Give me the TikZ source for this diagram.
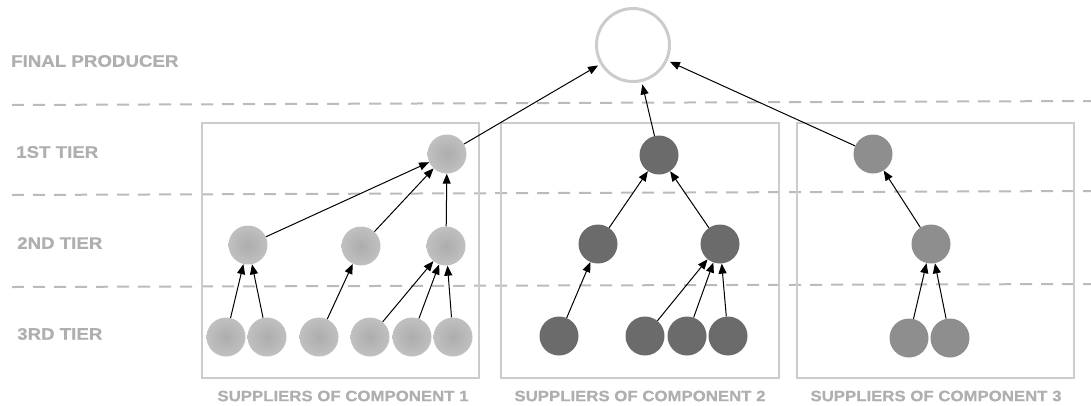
\documentclass[tikz,border=0pt]{standalone}
\usepackage{fontspec}
\usetikzlibrary{arrows.meta}
\newfontfamily\lblfont[FakeStretch=1.12, BoldFeatures={FakeBold=0.8}]{Liberation Sans}
\definecolor{tiergray}{HTML}{AFAFAF}
\definecolor{boxgray}{HTML}{CCCCCC}
\definecolor{dashgray}{HTML}{BBBBBB}
\definecolor{cAin}{HTML}{ADADAD}
\definecolor{cAout}{HTML}{C0C0C0}
\definecolor{cB}{HTML}{6B6B6B}
\definecolor{cC}{HTML}{8E8E8E}
\tikzset{
  tier/.style={font=\lblfont\bfseries\fontsize{16.7}{20}\selectfont, text=tiergray, anchor=west, inner sep=0pt},
  boxlbl/.style={font=\lblfont\bfseries\fontsize{15}{18}\selectfont, text=tiergray, inner sep=0pt},
  grp/.style={draw=boxgray, line width=2pt, minimum height=255pt, inner sep=0pt},
  dot/.style={circle, minimum size=39pt, inner sep=0pt},
  dA/.style={dot, shade, inner color=cAin, outer color=cAout},
  dB/.style={dot, fill=cB},
  dC/.style={dot, fill=cC},
  final/.style={circle, draw=boxgray, line width=3pt, minimum size=73pt, inner sep=0pt},
  tierline/.style={dashgray, line width=2pt, dash pattern=on 12pt off 9pt},
  arr/.style={-{Triangle[length=10pt,width=8pt]}, line width=1pt, black},
  tofinal/.style={arr, shorten >=2.5pt},
}
\begin{document}
\begin{tikzpicture}[x=1pt,y=-1pt]
\useasboundingbox (0,0) rectangle (1091,405);
% tier separators
\coordinate (l1a) at (12,105); \coordinate (l1b) at (1091,101);
\coordinate (l2a) at (12,195); \coordinate (l2b) at (1091,191);
\coordinate (l3a) at (12,287); \coordinate (l3b) at (1091,284);
\draw[tierline] (l1a) -- (l1b);
\draw[tierline] (l2a) -- (l2b);
\draw[tierline] (l3a) -- (l3b);
% tier labels
\node[tier] (tfp) at (11,61) {FINAL PRODUCER};
\node[tier] (t1) at (16,152) {1ST TIER};
\node[tier] (t2) at (17,243) {2ND TIER};
\node[tier] (t3) at (17,334) {3RD TIER};
% group boxes
\node[grp, minimum width=277pt] (g1) at (340.5,250.5) {};
\node[grp, minimum width=278pt] (g2) at (640,250.5) {};
\node[grp, minimum width=277pt] (g3) at (935.5,250.5) {};
\node[boxlbl] (g1l) at (343,396) {SUPPLIERS OF COMPONENT 1};
\node[boxlbl] (g2l) at (640,396) {SUPPLIERS OF COMPONENT 2};
\node[boxlbl] (g3l) at (936,396) {SUPPLIERS OF COMPONENT 3};
% final producer
\node[final] (fp) at (633,45) {};
% component 1
\node[dA] (a1) at (447,154) {};
\node[dA] (a21) at (248,245) {};
\node[dA] (a22) at (361,246) {};
\node[dA] (a23) at (446,246) {};
\node[dA] (a31) at (226,337) {};
\node[dA] (a32) at (267,337) {};
\node[dA] (a33) at (319,337) {};
\node[dA] (a34) at (370,337) {};
\node[dA] (a35) at (412,337) {};
\node[dA] (a36) at (453,337) {};
% component 2
\node[dB] (b1) at (659,155) {};
\node[dB] (b21) at (598,244) {};
\node[dB] (b22) at (720,244) {};
\node[dB] (b31) at (559,336) {};
\node[dB] (b32) at (645,336) {};
\node[dB] (b33) at (687,336) {};
\node[dB] (b34) at (728,336) {};
% component 3
\node[dC] (c1) at (873,154) {};
\node[dC] (c21) at (931,244) {};
\node[dC] (c31) at (909,338) {};
\node[dC] (c32) at (950,338) {};
% arrows
\draw[tofinal] (a1) -- (fp);
\draw[tofinal] (b1) -- (fp);
\draw[tofinal] (c1) -- (fp);
\draw[arr] (a21) -- (a1);
\draw[arr] (a22) -- (a1);
\draw[arr] (a23) -- (a1);
\draw[arr] (a31) -- (a21);
\draw[arr] (a32) -- (a21);
\draw[arr] (a33) -- (a22);
\draw[arr] (a34) -- (a23);
\draw[arr] (a35) -- (a23);
\draw[arr] (a36) -- (a23);
\draw[arr] (b21) -- (b1);
\draw[arr] (b22) -- (b1);
\draw[arr] (b31) -- (b21);
\draw[arr] (b32) -- (b22);
\draw[arr] (b33) -- (b22);
\draw[arr] (b34) -- (b22);
\draw[arr] (c21) -- (c1);
\draw[arr] (c31) -- (c21);
\draw[arr] (c32) -- (c21);
\end{tikzpicture}
\end{document}
